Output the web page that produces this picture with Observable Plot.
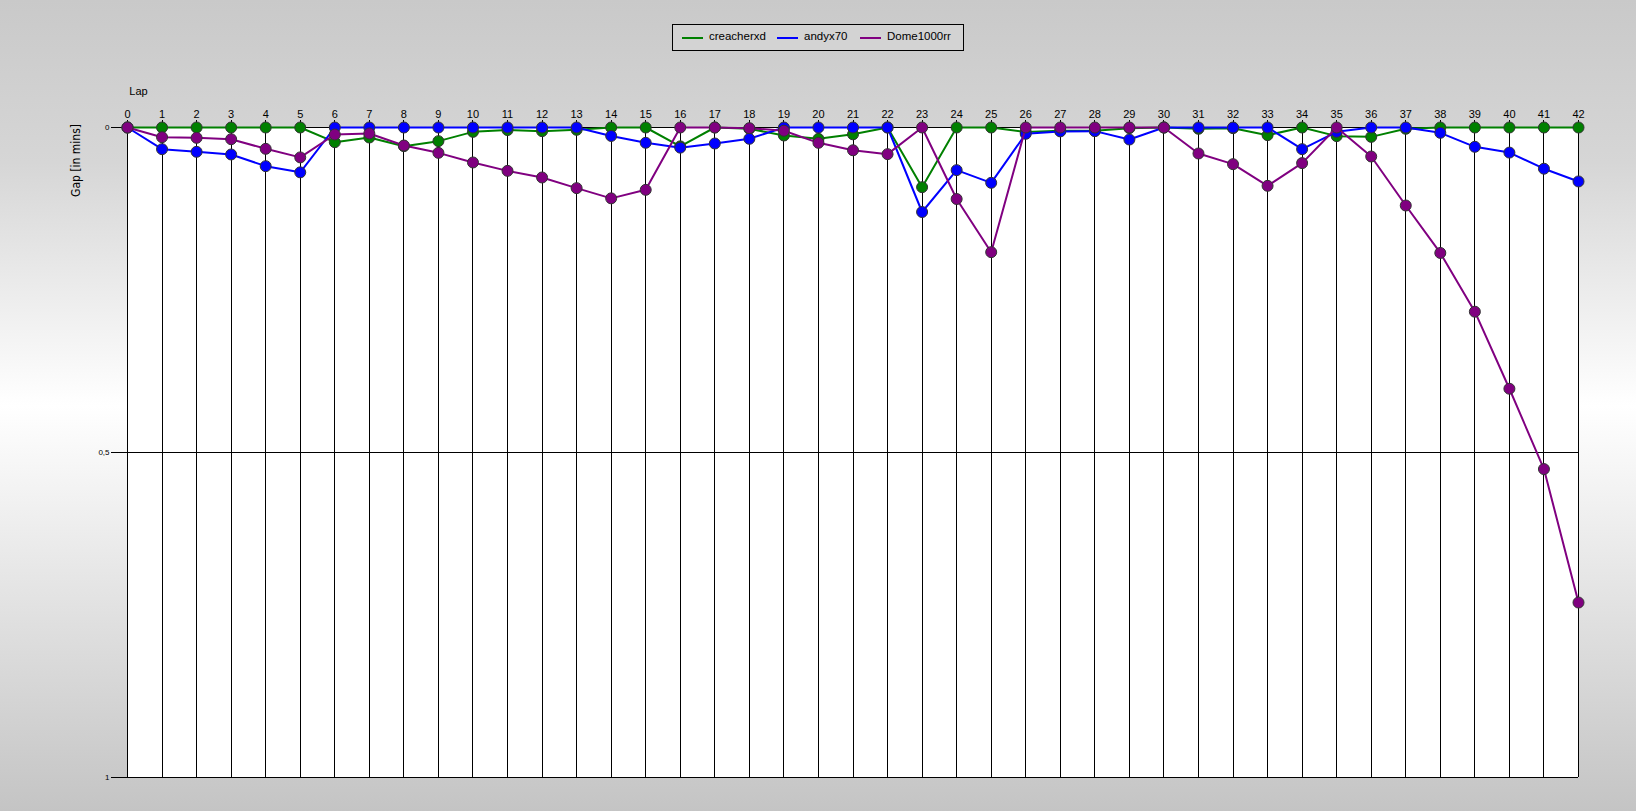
<!DOCTYPE html>
<html>
<head>
<meta charset="utf-8">
<script src="https://cdn.jsdelivr.net/npm/d3@7"></script>
<script src="https://cdn.jsdelivr.net/npm/@observablehq/plot@0.6"></script>
<style>
  html, body { margin: 0; padding: 0; }
  body {
    width: 1636px; height: 811px; overflow: hidden; position: relative;
    background: linear-gradient(to bottom, #c9c9c9 0%, #d6d6d6 20%, #ffffff 50%, #dedede 78%, #c4c4c4 100%);
    font-family: "Liberation Sans", Arial, sans-serif;
  }
  #legend {
    position: absolute; left: 672px; top: 24px; width: 292px; height: 27px;
    box-sizing: border-box; border: 1px solid #000; background: #d3d3d3;
    font-size: 11.5px; color: #000;
  }
  #legend .sw { position: absolute; top: 12px; width: 21px; height: 2px; }
  #legend .lbl { position: absolute; top: 5px; white-space: nowrap; }
  #chart { position: absolute; left: 0; top: 0; }
</style>
</head>
<body>
<div id="legend"></div>
<div id="chart"></div>
<script>
const laps = [0,1,2,3,4,5,6,7,8,9,10,11,12,13,14,15,16,17,18,19,20,21,22,23,24,25,26,27,28,29,30,31,32,33,34,35,36,37,38,39,40,41,42];
const seriesNames = ["creacherxd", "andyx70", "Dome1000rr"];
const seriesColors = ["#008000", "#0000ff", "#800080"];
const creacherxd = [0,0,0,0,0,0,0.0226,0.0154,0.0287,0.021,0.0067,0.004,0.0056,0.0036,0,0,0.029,0,0.002,0.0123,0.0174,0.0105,0,0.0918,0,0,0.007,0.005,0.005,0.001,0,0.002,0.001,0.0118,0,0.0133,0.0144,0.002,0,0,0,0,0];
const andyx70 = [0,0.0333,0.0374,0.0415,0.0595,0.069,0,0,0,0,0,0,0,0,0.013,0.0235,0.031,0.0246,0.0174,0,0,0,0,0.130,0.0656,0.0851,0.0097,0.006,0.0056,0.0185,0,0,0,0,0.0333,0.0067,0,0,0.0082,0.0297,0.0386,0.0634,0.083];
const dome1000rr = [0,0.0149,0.0159,0.018,0.0328,0.046,0.0108,0.0092,0.0277,0.039,0.0538,0.0667,0.0769,0.0933,0.109,0.0959,0,0,0.001,0.005,0.0236,0.035,0.041,0,0.110,0.1918,0,0,0,0,0,0.040,0.0564,0.0897,0.0548,0,0.0446,0.120,0.193,0.2834,0.4019,0.5255,0.7308];
const yTicks = [0, 0.5, 1];
const yTickLabels = ["0", "0,5", "1"];
const xLabel = "Lap";
const yLabel = "Gap [in mins]";

const seriesValues = [creacherxd, andyx70, dome1000rr];
const data = [];
seriesNames.forEach((name, i) => {
  laps.forEach((lap, j) => data.push({series: name, lap, gap: seriesValues[i][j]}));
});

// legend
const legend = document.getElementById("legend");
const swLeft = [9, 104, 187];
const lblLeft = [36, 131, 214];
seriesNames.forEach((name, i) => {
  const sw = document.createElement("div");
  sw.className = "sw";
  sw.style.left = swLeft[i] + "px";
  sw.style.background = seriesColors[i];
  const t = document.createElement("span");
  t.className = "lbl";
  t.style.left = lblLeft[i] + "px";
  t.textContent = name;
  legend.appendChild(sw); legend.appendChild(t);
});

const marks = [
  Plot.frame({fill: "white", stroke: null}),
  Plot.ruleX(laps, {x: d => d, y1: 0, y2: 1, stroke: "#000", strokeWidth: 1, shapeRendering: "crispEdges"}),
  Plot.ruleY(yTicks, {y: d => d, stroke: "#000", strokeWidth: 1, shapeRendering: "crispEdges"}),
  Plot.axisX(laps, {anchor: "top", tickSize: 8, tickPadding: 2, fontSize: 11, label: null, tickFormat: d => String(d), shapeRendering: "crispEdges"}),
  Plot.axisY(yTicks, {anchor: "left", tickSize: 16, tickPadding: 2, fontSize: 8, label: null, tickFormat: d => yTickLabels[yTicks.indexOf(d)], shapeRendering: "crispEdges"}),
  Plot.text([xLabel], {frameAnchor: "top-left", dx: 11, dy: -40, fontSize: 11, textAnchor: "middle"}),
  Plot.text([yLabel], {frameAnchor: "top-left", dx: -56, dy: 33, rotate: -90, fontSize: 12, textAnchor: "middle", fontFamily: "'Liberation Sans Narrow', 'DejaVu Sans Condensed', sans-serif"})
];
seriesNames.forEach((name, i) => {
  const rows = data.filter(d => d.series === name);
  marks.push(Plot.line(rows, {x: "lap", y: "gap", stroke: seriesColors[i], strokeWidth: 2}));
  marks.push(Plot.dot(rows, {x: "lap", y: "gap", r: 5.5, fill: seriesColors[i], stroke: "#333", strokeWidth: 1}));
});

const chart = Plot.plot({
  width: 1636,
  height: 811,
  marginLeft: 127,
  marginRight: 58,
  marginTop: 127,
  marginBottom: 34,
  style: {background: "transparent", fontFamily: "'Liberation Sans', Arial, sans-serif", color: "#000"},
  x: {domain: [0, 42], axis: null},
  y: {domain: [0, 1], reverse: true, axis: null},
  marks
});
document.getElementById("chart").appendChild(chart);
</script>
</body>
</html>
